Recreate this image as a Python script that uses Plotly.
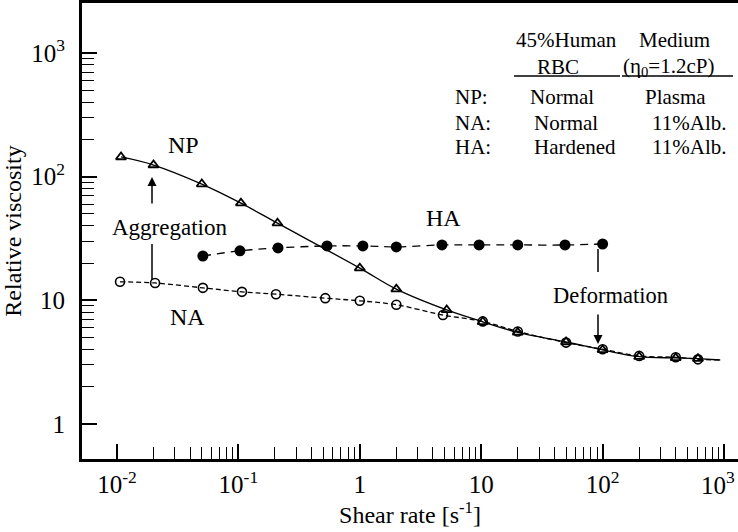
import plotly.graph_objects as go

# ---- data ----
np_x = [0.0108, 0.02, 0.05, 0.105, 0.21, 1.0, 2.0, 5.2, 10.3, 20, 50, 100, 200, 400, 610]
np_y = [144, 124, 87, 61, 42, 18.2, 12.3, 8.35, 6.7, 5.5, 4.6, 3.97, 3.5, 3.42, 3.37]

na_x = [0.0106, 0.0206, 0.051, 0.107, 0.204, 0.52, 1.0, 2.0, 4.84, 10.3, 20, 50, 100, 200, 400, 610]
na_y = [14.1, 13.8, 12.6, 11.7, 11.2, 10.4, 9.9, 9.2, 7.6, 6.75, 5.6, 4.55, 4.02, 3.55, 3.46, 3.33]

ha_x = [0.051, 0.103, 0.212, 0.537, 1.06, 2.0, 4.75, 9.6, 20, 49, 100]
ha_y = [22.8, 25.1, 26.5, 27.5, 27.5, 27.0, 28.0, 28.0, 28.0, 28.0, 28.5]

# end of the fitted curves beyond the last measured point
fit_end_x = [610, 930]
np_fit_end_y = [3.37, 3.29]
na_fit_end_y = [3.33, 3.29]

x_tickvals = [0.01, 0.1, 1, 10, 100, 1000]
x_ticktext = ["10<sup>-2</sup>", "10<sup>-1</sup>", "1", "10", "10<sup>2</sup>", "10<sup>3</sup>"]
y_tickvals = [1, 10, 100, 1000]
y_ticktext = ["1", "10", "10<sup>2</sup>", "10<sup>3</sup>"]

FONT = "Liberation Serif"
W, H = 738, 532
L, R, T, B = 82, 0, 3, 73
PW, PH = W - L - R, H - T - B


def px(x):
    return (x - L) / PW


def py(y):
    return (H - B - y) / PH


fig = go.Figure()

# NP: solid line, open triangles
fig.add_trace(go.Scatter(x=np_x, y=np_y, mode="lines+markers",
                         line=dict(color="black", width=1.3, shape="spline"),
                         marker=dict(symbol="triangle-up-open", size=9, color="black",
                                     line=dict(width=1.8, color="black"))))
fig.add_trace(go.Scatter(x=fit_end_x, y=np_fit_end_y, mode="lines",
                         line=dict(color="black", width=1.3)))
# NA: dashed line, open circles
fig.add_trace(go.Scatter(x=na_x, y=na_y, mode="lines+markers",
                         line=dict(color="black", width=1.3, dash="5px,3px", shape="spline"),
                         marker=dict(symbol="circle-open", size=9, color="black",
                                     line=dict(width=1.6, color="black"))))
fig.add_trace(go.Scatter(x=fit_end_x, y=na_fit_end_y, mode="lines",
                         line=dict(color="black", width=1.3, dash="5px,3px")))
# HA: dashed line, filled circles
fig.add_trace(go.Scatter(x=ha_x, y=ha_y, mode="lines+markers",
                         line=dict(color="black", width=1.3, dash="8px,6px", shape="spline"),
                         marker=dict(symbol="circle", size=11, color="black")))

ann = []


def txt(s, x, y, size=24, xanchor="center"):
    ann.append(dict(text=s, x=px(x), y=py(y), xref="paper", yref="paper",
                    xanchor=xanchor, yanchor="middle", showarrow=False,
                    font=dict(family=FONT, size=size, color="black")))


txt("NP", 183, 145)
txt("HA", 443, 218)
txt("NA", 187, 317)
txt("Aggregation", 169, 227, size=23)
txt("Deformation", 610, 295, size=22.5)

ts = 21
txt("45%Human", 514, 40, ts, "left")
txt("Medium", 637, 40, ts, "left")
txt("RBC", 558, 67, ts)
txt("(η<sub>0</sub>=1.2cP)", 621, 67, ts, "left")
txt("NP:", 453, 97, ts, "left")
txt("Normal", 528, 97, ts, "left")
txt("Plasma", 643, 97, ts, "left")
txt("NA:", 453, 123, ts, "left")
txt("Normal", 532, 123, ts, "left")
txt("11%Alb.", 650, 123, ts, "left")
txt("HA:", 453, 147, ts, "left")
txt("Hardened", 532, 147, ts, "left")
txt("11%Alb.", 650, 147, ts, "left")

# last x tick label sits against the right edge of the page: pin it inside
ann.append(dict(text=x_ticktext[-1], x=1.0, y=0, xref="paper", yref="paper",
                xanchor="right", yanchor="top", yshift=-6, xshift=-1, showarrow=False,
                font=dict(family=FONT, size=25, color="black")))
x_ticktext_axis = x_ticktext[:-1] + [""]

# arrows
for (xa, tip, tail) in [(152, 177, 205), (598, 344, 313)]:
    ann.append(dict(text="", x=px(xa), y=py(tip), xref="paper", yref="paper",
                    ax=0, ay=tail - tip, axref="pixel", ayref="pixel",
                    showarrow=True, arrowhead=2, arrowsize=1.2, arrowwidth=1.5,
                    arrowcolor="black"))

shapes = []
for (x0, y0, x1, y1) in [(152, 244, 152, 280), (598, 249, 598, 272),
                         (514, 76, 620, 76), (622, 76, 733, 76)]:
    shapes.append(dict(type="line", xref="paper", yref="paper",
                       x0=px(x0), y0=py(y0), x1=px(x1), y1=py(y1),
                       line=dict(color="black", width=1.5)))


def minor_vals(d0, d1):
    return [k * 10 ** d for d in range(d0, d1) for k in range(2, 10)]


fig.update_layout(
    width=W, height=H,
    margin=dict(l=L, r=R, t=T, b=B, autoexpand=False),
    paper_bgcolor="white", plot_bgcolor="white",
    showlegend=False,
    annotations=ann, shapes=shapes,
    font=dict(family=FONT, size=24, color="black"),
    xaxis=dict(type="log", range=[-2.288, 3.115], automargin=False,
               showline=True, linecolor="black", linewidth=3, mirror=True,
               showgrid=False, zeroline=False,
               tickmode="array", tickvals=x_tickvals, ticktext=x_ticktext_axis,
               ticks="inside", ticklen=15, tickwidth=1.5, tickcolor="black",
               ticklabelstandoff=1, ticklabeloverflow="allow",
               tickfont=dict(family=FONT, size=25, color="black"),
               minor=dict(tickmode="array", tickvals=minor_vals(-2, 3),
                          ticks="inside", ticklen=12, tickwidth=1.3, tickcolor="black",
                          showgrid=False),
               title=dict(text="Shear rate [s<sup>-1</sup>]", standoff=2,
                          font=dict(family=FONT, size=24, color="black"))),
    yaxis=dict(type="log", range=[-0.283, 3.403], automargin=False,
               showline=True, linecolor="black", linewidth=3, mirror=False,
               showgrid=False, zeroline=False,
               tickmode="array", tickvals=y_tickvals, ticktext=y_ticktext,
               ticks="inside", ticklen=15, tickwidth=1.5, tickcolor="black",
               ticklabelstandoff=9, ticklabeloverflow="allow",
               tickfont=dict(family=FONT, size=25, color="black"),
               minor=dict(tickmode="array", tickvals=minor_vals(0, 3),
                          ticks="inside", ticklen=12, tickwidth=1.3, tickcolor="black",
                          showgrid=False),
               title=dict(text="Relative viscosity", standoff=3,
                          font=dict(family=FONT, size=24, color="black"))),
)

# the page's default 8px body margin would shift the whole figure; remove it
fig.write_html("out.html", config={"displayModeBar": False},
               post_script="document.body.style.margin='0';document.body.style.overflow='hidden';")
